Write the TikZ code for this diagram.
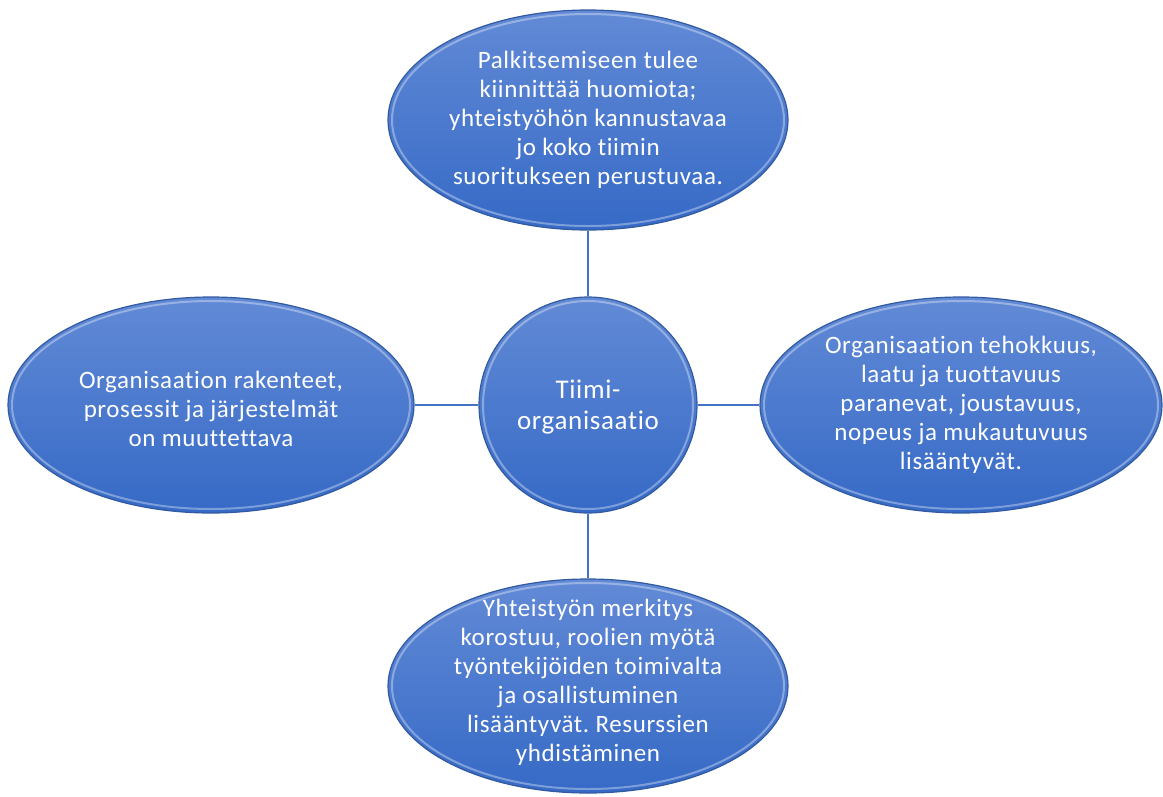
\documentclass[tikz,border=0pt]{standalone}
\usepackage{fontspec}
\setmainfont{Carlito}[Ligatures=NoCommon, LetterSpace=2.5]
\usetikzlibrary{shapes.geometric}
\frenchspacing

\definecolor{bubtop}{RGB}{98,138,214}
\definecolor{bubbot}{RGB}{54,106,198}
\definecolor{bubedge}{RGB}{50,90,160}
\definecolor{linkcol}{RGB}{68,114,196}

\tikzset{
  bubble/.style={ellipse, inner sep=0pt, top color=bubtop, bottom color=bubbot,
    draw=bubedge, line width=1.2pt},
  rim/.style={draw=white, draw opacity=0.35, line width=2pt},
  bubtext/.style={text=white, align=center, font=\fontsize{25}{29}\selectfont},
  hubtext/.style={text=white, align=center, font=\fontsize{27}{31}\selectfont},
  link/.style={draw=linkcol, line width=1.6pt},
}

% ellipse node with an inner highlight ring: name, x, y, x radius, y radius
\newcommand{\bevelbubble}[5]{%
  \node[bubble, minimum width=2*#4, minimum height=2*#5] (#1) at (#2,#3) {};
  \draw[rim] (#2,#3) ellipse [x radius=#4-4, y radius=#5-4];
}

\begin{document}
\begin{tikzpicture}[x=1pt,y=-1pt]
  \useasboundingbox (0,0) rectangle (1163,796);

  \bevelbubble{top}{588}{120}{200}{110}
  \bevelbubble{left}{211}{405}{203}{108}
  \bevelbubble{right}{961}{405}{201}{108}
  \bevelbubble{bottom}{588}{686}{200}{107}
  \bevelbubble{hub}{588}{405}{109}{108}

  \node[bubtext] (toptext) at (top.center)
    {Palkitsemiseen tulee\\kiinnittää huomiota;\\yhteistyöhön kannustavaa\\jo koko tiimin\\suoritukseen perustuvaa.};
  \node[bubtext] (lefttext) at ([yshift=-4pt]left.center)
    {Organisaation rakenteet,\\prosessit ja järjestelmät\\on muuttettava};
  \node[bubtext] (righttext) at (right.center)
    {Organisaation tehokkuus,\\laatu ja tuottavuus\\paranevat, joustavuus,\\nopeus ja mukautuvuus\\lisääntyvät.};
  \node[bubtext] (bottomtext) at ([yshift=4pt]bottom.center)
    {Yhteistyön merkitys\\korostuu, roolien myötä\\työntekijöiden toimivalta\\ja osallistuminen\\lisääntyvät. Resurssien\\yhdistäminen};
  \node[hubtext] (hubtext) at ([yshift=-2pt]hub.center) {Tiimi-\\organisaatio};

  \draw[link] (top.south) -- (hub.north);
  \draw[link] (left.east) -- (hub.west);
  \draw[link] (hub.east) -- (right.west);
  \draw[link] (hub.south) -- (bottom.north);
\end{tikzpicture}
\end{document}
